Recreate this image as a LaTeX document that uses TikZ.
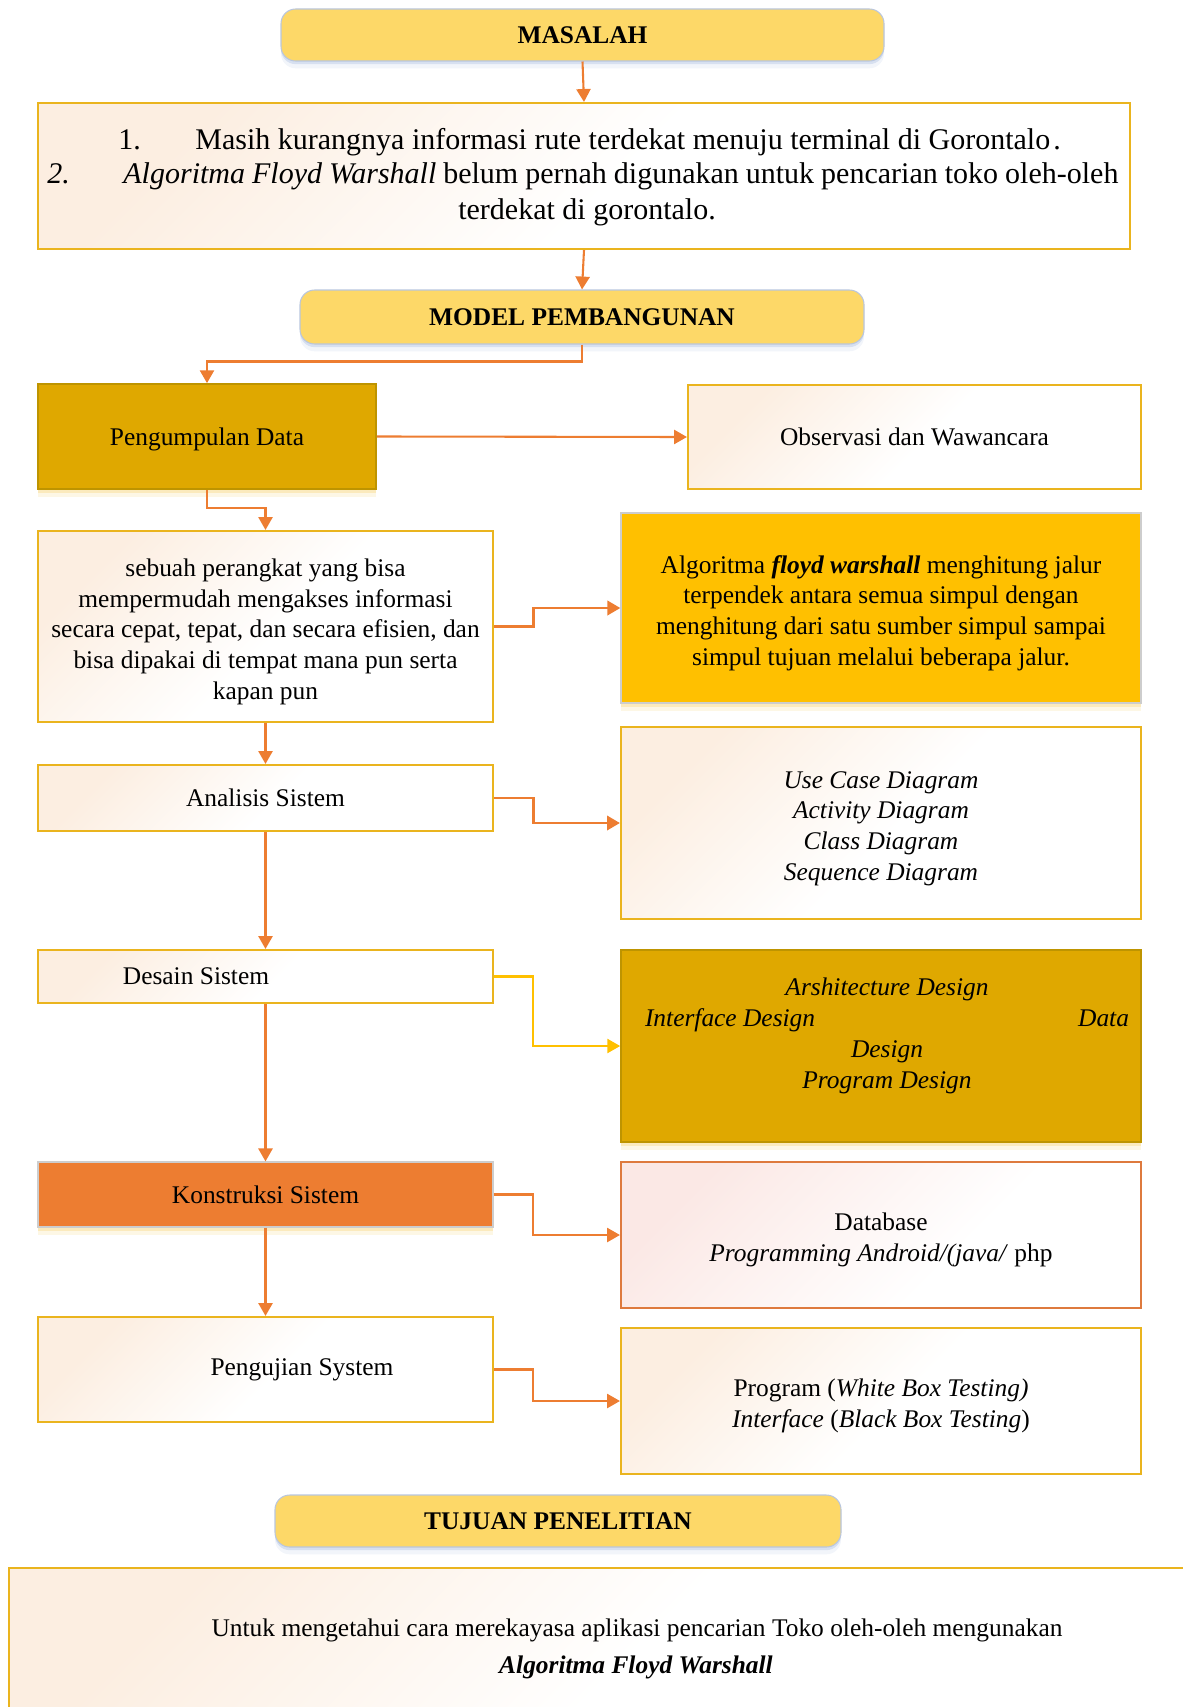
\documentclass[tikz,border=0pt]{standalone}
\usepackage{fontspec}
\setmainfont{Liberation Serif}
\usetikzlibrary{arrows.meta,shadows}

% palette
\definecolor{headfill}{RGB}{253,216,104}
\definecolor{headline}{RGB}{185,198,222}
\definecolor{headshadow}{RGB}{165,185,222}
\definecolor{goldline}{RGB}{234,180,30}
\definecolor{peach}{RGB}{252,238,225}
\definecolor{rose}{RGB}{251,232,229}
\definecolor{darkgold}{RGB}{223,168,0}
\definecolor{darkgoldline}{RGB}{190,148,0}
\definecolor{amber}{RGB}{255,192,0}
\definecolor{flame}{RGB}{237,125,49}
\definecolor{rust}{RGB}{222,122,62}
\definecolor{arrowc}{RGB}{237,125,49}
\definecolor{glow}{RGB}{248,222,150}
\definecolor{softgray}{RGB}{205,205,205}

\pgfdeclarehorizontalshading{peachfade}{100bp}{color(0bp)=(peach); color(25bp)=(peach); color(52bp)=(white); color(100bp)=(white)}
\pgfdeclarehorizontalshading{rosefade}{100bp}{color(0bp)=(rose); color(25bp)=(rose); color(60bp)=(white); color(100bp)=(white)}

\newcommand\bodyfont{\fontsize{12.2}{14.8}\selectfont}
\newcommand\bigfont{\fontsize{14.4}{16.8}\selectfont}
\newcommand\headfont{\fontsize{12.2}{14.2}\selectfont\bfseries}
% taller first line, so that a multi-line block sits a little lower in its box
\newcommand\topstrut{\rule{0pt}{13.5pt}}

\tikzset{
  % a box given by its corners (left, top, right, bottom) in pixel units
  span/.style n args={4}{minimum width={(#3-#1)*0.48pt}, minimum height={(#4-#2)*0.48pt},
    at={({(#1+#3)/2},{(#2+#4)/2})}},
  heading/.style={draw=headline, line width=0.5pt, fill=headfill, rounded corners=7pt,
    inner sep=0pt, font=\headfont,
    drop shadow={shadow xshift=0pt, shadow yshift=-1.5pt, opacity=0.35, fill=headshadow},
    drop shadow={shadow xshift=0pt, shadow yshift=-3.5pt, opacity=0.15, fill=headshadow}},
  lightbox/.style={draw=goldline, line width=1pt, shade, shading=peachfade, shading angle=-45,
    inner sep=0pt, align=center, font=\bodyfont},
  rosebox/.style={lightbox, draw=rust, shading=rosefade},
  solidbox/.style={inner sep=0pt, align=center, font=\bodyfont,
    drop shadow={shadow xshift=0pt, shadow yshift=-2pt, opacity=0.5, fill=glow},
    drop shadow={shadow xshift=0pt, shadow yshift=-4pt, opacity=0.25, fill=glow}},
  goldbox/.style={solidbox, fill=darkgold, draw=darkgoldline, line width=0.8pt},
  amberbox/.style={solidbox, fill=amber, draw=softgray, line width=0.6pt},
  flamebox/.style={solidbox, fill=flame, draw=softgray, line width=0.6pt},
  txt/.style={inner sep=0pt, font=\bodyfont, align=center},
  conn/.style={draw=arrowc, line width=1pt, -{Triangle[length=6.2pt,width=6.8pt]}},
  thickconn/.style={conn, line width=1.4pt},
}

\begin{document}
\begin{tikzpicture}[x=0.48pt, y=-0.48pt]
\useasboundingbox (0,0) rectangle (1183,1707);
\clip (0,0) rectangle (1183,1707);

% headings
\node[heading, span={281}{9}{884}{61}] (masalah) {MASALAH};
\node[heading, span={300}{290}{864}{344}] (model) {MODEL PEMBANGUNAN};
\node[heading, span={275}{1495}{841}{1547}] (tujuan) {TUJUAN PENELITIAN};

% problem statement
\node[lightbox, span={38}{103}{1130}{249}] (masalahbox) {};
\node[txt, font=\bigfont, anchor=base west] (num1) at (118,150) {1.};
\node[txt, font=\bigfont, anchor=base west] (line1) at (195,150)
  {Masih kurangnya informasi rute terdekat menuju terminal di Gorontalo\kern1.5pt.};
\node[txt, font=\bigfont, anchor=base west] (num2) at (47,184) {\textit{2.}};
\node[txt, font=\bigfont, anchor=base west] (line2) at (123,184)
  {\makebox[477.6pt][s]{\textit{Algoritma Floyd Warshall} belum pernah digunakan untuk pencarian toko oleh-oleh}};
\node[txt, font=\bigfont, anchor=base] (line3) at (587,220) {terdekat di gorontalo.};

% left column
\node[goldbox, span={38}{384}{376}{489}] (kumpul) {\rule{0pt}{11pt}Pengumpulan Data};
\node[lightbox, span={38}{531}{493}{722}] (perangkat)
  {\topstrut sebuah perangkat yang bisa\\ mempermudah mengakses informasi\\ secara cepat, tepat, dan secara efisien, dan\\ bisa dipakai di tempat mana pun serta\\ kapan pun};
\node[lightbox, span={38}{765}{493}{831}] (analisis) {Analisis Sistem};
\node[lightbox, span={38}{950}{493}{1003}] (desain) {};
\node[txt] (desainlbl) at (196,976) {Desain Sistem};
\node[flamebox, span={38}{1162}{493}{1227}] (konstruksi) {Konstruksi Sistem};
\node[lightbox, span={38}{1317}{493}{1422}] (pengujian) {};
\node[txt] (pengujianlbl) at (302,1370) {Pengujian System};

% right column
\node[lightbox, span={688}{385}{1141}{489}] (observasi) {Observasi dan Wawancara};
\node[amberbox, span={621}{513}{1141}{703}] (algo)
  {\topstrut Algoritma \textbf{\textit{floyd warshall}} menghitung jalur\\ terpendek antara semua simpul dengan\\ menghitung dari satu sumber simpul sampai\\ simpul tujuan melalui beberapa jalur.};
\node[lightbox, span={621}{727}{1141}{919}, font=\bodyfont\itshape] (uml)
  {\topstrut Use Case Diagram\\ Activity Diagram\\ Class Diagram\\ Sequence Diagram};
\node[goldbox, span={621}{950}{1141}{1142}] (design) {};
\node[txt, font=\bodyfont\itshape] (designlbl) at (887,1036)
  {Arshitecture Design\\ \makebox[232.3pt]{Interface Design\hfill Data}\\ Design\\ Program Design};
\node[rosebox, span={621}{1162}{1141}{1308}] (database)
  {\topstrut Database\\ \textit{Programming Android/(java/} php};
\node[lightbox, span={621}{1328}{1141}{1474}] (program)
  {\topstrut Program (\textit{White Box Testing)}\\ \textit{Interface} (\textit{Black Box Testing})};

% research goal
\node[lightbox, span={9}{1568}{1200}{1725}] (goalbox) {};
\node[txt, anchor=base] (goal1) at (637,1636)
  {Untuk mengetahui cara merekayasa aplikasi pencarian Toko oleh-oleh mengunakan};
\node[txt, anchor=base] (goal2) at (636,1673) {\textbf{\textit{Algoritma Floyd Warshall}}};

% connectors
\draw[conn] (masalah.south) -- (masalahbox.north);
\draw[conn] (masalahbox.south) -- (model.north);
\draw[conn] (model.south) -- ++(0,17) -| (kumpul.north);
\draw[conn] (kumpul.east) -- (observasi.west);
\draw[conn] (kumpul.south) -- ++(0,18) -| (perangkat.north);
\draw[thickconn] (perangkat.east) -- ++(39,0) |- (algo.west);
\draw[conn] (perangkat.south) -- (analisis.north);
\draw[thickconn] (analisis.east) -- ++(39,0) |- (uml.west);
\draw[conn] (analisis.south) -- (desain.north);
\draw[conn, draw=amber] (desain.east) -- ++(39,0) |- (design.west);
\draw[conn] (desain.south) -- (konstruksi.north);
\draw[conn] (konstruksi.east) -- ++(39,0) |- (database.west);
\draw[conn] (konstruksi.south) -- (pengujian.north);
\draw[conn] (pengujian.east) -- ++(39,0) |- (program.west);
\end{tikzpicture}
\end{document}
